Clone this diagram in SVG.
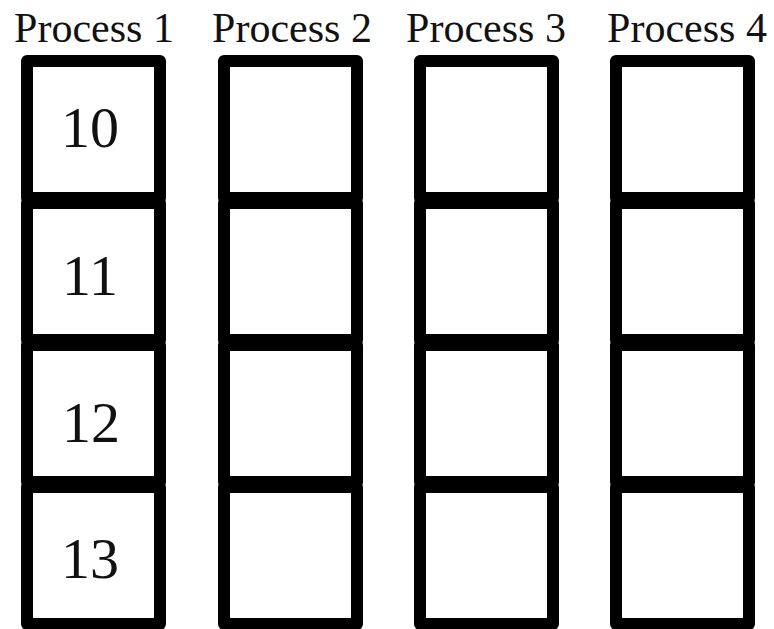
<svg xmlns="http://www.w3.org/2000/svg" width="774" height="629" viewBox="0 0 774 629">
<style>
.cell{fill:none;stroke:#000;stroke-width:12;stroke-linejoin:round}
text{font-family:'Liberation Serif','DejaVu Serif',serif;text-anchor:middle;fill:#111}
.hdr{font-size:42px}
.num{font-size:58px}
</style>
<rect width="774" height="629" fill="#fff"/>
<g id="headers">
<text class="hdr" x="94" y="42" font-family="Liberation Serif, DejaVu Serif, serif">Process 1</text>
<text class="hdr" x="292" y="42" font-family="Liberation Serif, DejaVu Serif, serif">Process 2</text>
<text class="hdr" x="486" y="42" font-family="Liberation Serif, DejaVu Serif, serif">Process 3</text>
<text class="hdr" x="687" y="42" font-family="Liberation Serif, DejaVu Serif, serif">Process 4</text>
</g>
<g id="process1">
<rect class="cell" x="27" y="61" width="133" height="137"/>
<rect class="cell" x="27" y="203" width="133" height="137"/>
<rect class="cell" x="27" y="345" width="133" height="137"/>
<rect class="cell" x="27" y="487" width="133" height="137"/>
<text class="num" x="90" y="147" font-family="Liberation Serif, DejaVu Serif, serif">10</text>
<text class="num" x="90" y="295" font-family="Liberation Serif, DejaVu Serif, serif">11</text>
<text class="num" x="91" y="442" font-family="Liberation Serif, DejaVu Serif, serif">12</text>
<text class="num" x="90" y="578" font-family="Liberation Serif, DejaVu Serif, serif">13</text>
</g>
<g id="process2">
<rect class="cell" x="224" y="61" width="133" height="137"/>
<rect class="cell" x="224" y="203" width="133" height="137"/>
<rect class="cell" x="224" y="345" width="133" height="137"/>
<rect class="cell" x="224" y="487" width="133" height="137"/>
</g>
<g id="process3">
<rect class="cell" x="420" y="61" width="133" height="137"/>
<rect class="cell" x="420" y="203" width="133" height="137"/>
<rect class="cell" x="420" y="345" width="133" height="137"/>
<rect class="cell" x="420" y="487" width="133" height="137"/>
</g>
<g id="process4">
<rect class="cell" x="616" y="61" width="133" height="137"/>
<rect class="cell" x="616" y="203" width="133" height="137"/>
<rect class="cell" x="616" y="345" width="133" height="137"/>
<rect class="cell" x="616" y="487" width="133" height="137"/>
</g>
<g id="connectors"></g>
</svg>
